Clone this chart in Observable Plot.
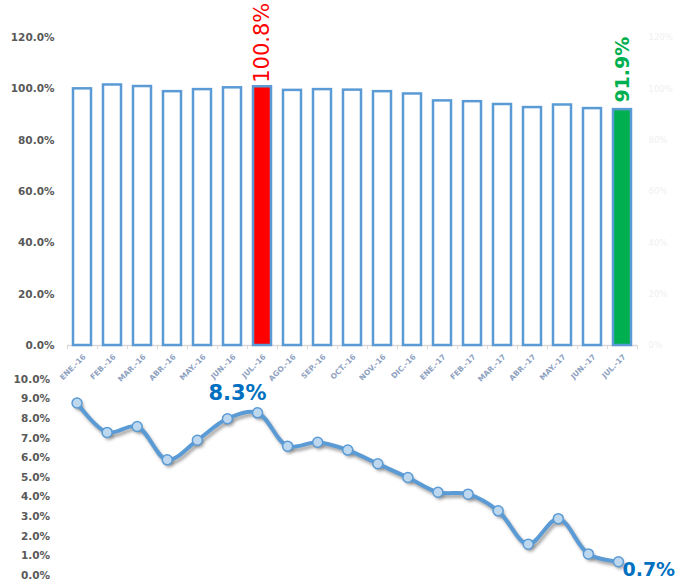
<!DOCTYPE html>
<html><head><meta charset="utf-8">
<script src="https://cdn.jsdelivr.net/npm/d3@7"></script>
<script src="https://cdn.jsdelivr.net/npm/@observablehq/plot@0.6"></script>
<style>
body{margin:0;background:#fff;}
#wrap{position:relative;width:676px;height:583px;overflow:hidden;background:#fff;}
#topChart,#bottomChart{position:absolute;left:0;}
#topChart{top:0;} #bottomChart{top:360px;}
</style></head><body><div id="wrap"><div id="bottomChart"></div><div id="topChart"></div></div>
<script>
const months = ["ENE.-16","FEB.-16","MAR.-16","ABR.-16","MAY.-16","JUN.-16","JUL.-16","AGO.-16","SEP.-16","OCT.-16","NOV.-16","DIC.-16","ENE.-17","FEB.-17","MAR.-17","ABR.-17","MAY.-17","JUN.-17","JUL.-17"];
const ratioValues = [100.0, 101.5, 100.9, 98.9, 99.7, 100.4, 100.8, 99.4, 99.7, 99.5, 98.9, 98.0, 95.3, 95.0, 93.9, 92.7, 93.7, 92.3, 91.9];
const growthValues = [8.8, 7.3, 7.6, 5.9, 6.9, 8.0, 8.3, 6.6, 6.8, 6.4, 5.7, 5.0, 4.25, 4.15, 3.3, 1.6, 2.9, 1.1, 0.7];
const highlightMonths = ["JUL.-16", "JUL.-17"];
const highlightColors = ["#ff0000", "#00b050"];
const ratioTicks = [0, 20, 40, 60, 80, 100, 120];
const growthTicks = [0, 1, 2, 3, 4, 5, 6, 7, 8, 9, 10];

const ratioData = months.map((m, i) => ({month: m, value: ratioValues[i]}));
const growthData = months.map((m, i) => ({month: m, value: growthValues[i]}));
const hiIndex = m => highlightMonths.indexOf(m);
const blue = "#5b9bd5";
const axisGray = "#595959";
const font = "DejaVu Sans";

const topPlot = Plot.plot({
  width: 676, height: 380,
  marginLeft: 67, marginRight: 39, marginTop: 37, marginBottom: 35,
  style: {background: "transparent", fontFamily: font, overflow: "visible"},
  x: {type: "band", domain: months, paddingInner: 0.4, paddingOuter: 0.2, round: false, axis: null},
  y: {domain: [0, 120], axis: null},
  marks: [
    Plot.axisY({ticks: ratioTicks, label: null, tickSize: 0, tickPadding: 13, tickFormat: d => d.toFixed(1) + "%", fontSize: 10.5, fontWeight: "bold", fill: axisGray}),
    Plot.axisY({anchor: "right", label: null, ticks: ratioTicks, tickSize: 0, tickPadding: 11, tickFormat: d => d + "%", fontSize: 8.5, fill: "#f0f0f0"}),
    Plot.ruleY([0], {stroke: "#d9d9d9", strokeWidth: 1.5}),
    Plot.ruleX(months, {x: d => d, y1: 0, y2: -1.6, stroke: "#d9d9d9", dx: -15}),
    Plot.ruleX([months[months.length - 1]], {x: d => d, y1: 0, y2: -1.6, stroke: "#d9d9d9", dx: 15}),
    Plot.barY(ratioData, {x: "month", y: "value",
      fill: d => hiIndex(d.month) >= 0 ? highlightColors[hiIndex(d.month)] : "white",
      stroke: blue, strokeWidth: 2.5}),
    Plot.text(ratioData.filter(d => d.month === highlightMonths[0]), {x: "month", y: "value", text: d => d.value.toFixed(1) + "%",
      rotate: -90, textAnchor: "start", lineAnchor: "middle", dy: -4, fontSize: 21, fill: highlightColors[0]}),
    Plot.text(ratioData.filter(d => d.month === highlightMonths[1]), {x: "month", y: "value", text: d => d.value.toFixed(1) + "%",
      rotate: -90, textAnchor: "start", lineAnchor: "middle", dy: -7, fontSize: 19, fontWeight: "bold", fill: highlightColors[1]}),
    Plot.text(months, {x: d => d, y: 0, text: d => d, rotate: -45, textAnchor: "end", lineAnchor: "middle",
      dx: 2, dy: 10, fontSize: 7.5, fontWeight: "bold", fill: "#8fa2bf"})
  ]
});
document.getElementById("topChart").appendChild(topPlot);

const bottomPlot = Plot.plot({
  width: 676, height: 223,
  marginLeft: 61.5, marginRight: 43, marginTop: 19, marginBottom: 8,
  style: {background: "transparent", fontFamily: font},
  x: {type: "band", domain: months, paddingInner: 0.4, paddingOuter: 0.2, round: false, axis: null},
  y: {domain: [0, 10], axis: null},
  marks: [
    Plot.axisY({ticks: growthTicks, label: null, tickSize: 0, tickPadding: 12, tickFormat: d => d.toFixed(1) + "%", fontSize: 10.5, fontWeight: "bold", fill: axisGray}),
    Plot.line(growthData, {x: "month", y: "value", curve: "catmull-rom", stroke: "#404040", strokeOpacity: 0.45, strokeWidth: 4, dx: 2, dy: 3}),
    Plot.dot(growthData, {x: "month", y: "value", r: 5, fill: "#404040", fillOpacity: 0.35, dx: 2, dy: 3}),
    Plot.line(growthData, {x: "month", y: "value", curve: "catmull-rom", stroke: blue, strokeWidth: 4}),
    Plot.dot(growthData, {x: "month", y: "value", r: 5, fill: "#bdd7ee", stroke: blue, strokeWidth: 1.5}),
    Plot.text(growthData.filter(d => d.month === "JUL.-16"), {x: "month", y: "value", text: d => d.value.toFixed(1) + "%",
      dx: -20, dy: -20, fontSize: 21, fontWeight: "bold", fill: "#0070c0"}),
    Plot.text(growthData.filter(d => d.month === "JUL.-17"), {x: "month", y: "value", text: d => d.value.toFixed(1) + "%",
      textAnchor: "start", lineAnchor: "top", dx: 4, dy: 1, fontSize: 19, fontWeight: "bold", fill: "#0070c0"})
  ]
});
const bsvg = d3.select(bottomPlot.tagName.toLowerCase() === "svg" ? bottomPlot : bottomPlot.querySelector("svg"));
const defs = bsvg.insert("defs", ":first-child");
defs.append("filter").attr("id", "blurShadow").attr("x", "-10%").attr("y", "-10%").attr("width", "120%").attr("height", "120%")
  .append("feGaussianBlur").attr("stdDeviation", 1.5);
const markGroups = bsvg.selectAll(":scope > g").nodes();
[1, 2].forEach(i => markGroups[i] && d3.select(markGroups[i]).attr("filter", "url(#blurShadow)"));
document.getElementById("bottomChart").appendChild(bottomPlot);
</script>
</body></html>
